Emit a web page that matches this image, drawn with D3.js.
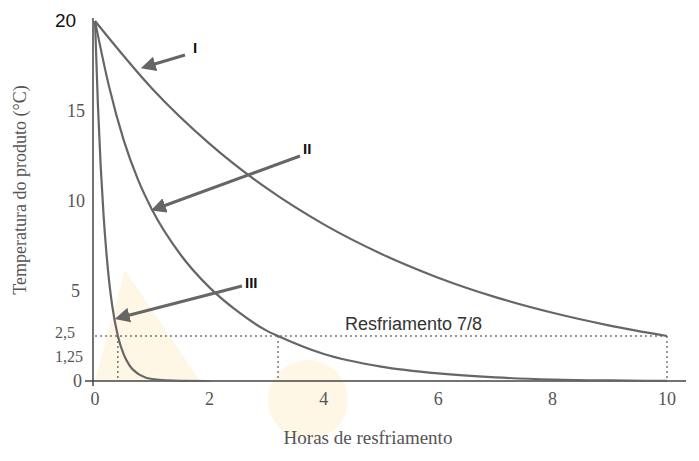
<!DOCTYPE html><html><head><meta charset="utf-8"><script src="https://cdn.jsdelivr.net/npm/d3@7"></script>
<style>body{margin:0;background:#fff}text{font-family:"Liberation Serif",serif;fill:#555}</style></head><body><svg width="699" height="461"></svg><script>
const curveI=[[0,20],[1,16.24],[2,13.19],[3,10.71],[4,8.70],[5,7.07],[6,5.74],[7,4.66],[8,3.79],[9,3.08],[10,2.5]];
const curveII=[[0,20],[0.25,16.3],[0.5,13.4],[0.75,11.2],[1,9.5],[1.5,7.0],[2,5.2],[2.5,3.85],[3,2.8],[3.2,2.5],[4,1.5],[5,0.8],[6,0.42],[7,0.2],[8,0.08],[9,0.03],[10,0.01]];
const curveIII=[[0,20],[0.05,15.4],[0.1,11.9],[0.15,9.2],[0.2,7.1],[0.25,5.45],[0.3,4.2],[0.4,2.5],[0.5,1.49],[0.6,0.88],[0.8,0.31],[1,0.11],[1.5,0.01],[2,0]];
const xTicks=[0,2,4,6,8,10];
const yTicks=[0,1.25,2.5,5,10,15];
const yTickLabels=["0","1,25","2,5","5","10","15"];
const coolTimes=[0.4,3.2,10];
const svg=d3.select("svg");
const x=d3.scaleLinear().domain([0,10]).range([95,667]);
const y=d3.scaleLinear().domain([0,20]).range([381,21]);
svg.append("path").attr("d","M95,381 L125,270 L200,381 Z").attr("fill","#fdf1d6").attr("opacity",0.6);
svg.append("circle").attr("cx",308).attr("cy",400).attr("r",40).attr("fill","#fdf1d6").attr("opacity",0.6);
svg.append("line").attr("x1",85).attr("x2",686).attr("y1",y(0)).attr("y2",y(0)).attr("stroke","#444").attr("stroke-width",1.5);
svg.append("line").attr("x1",x(0)-2).attr("x2",x(0)-2).attr("y1",18).attr("y2",386).attr("stroke","#444").attr("stroke-width",1.5);
svg.selectAll(".xt").data(xTicks).join("text").attr("x",d=>x(d)).attr("y",405).attr("text-anchor","middle").attr("font-size",18).text(d=>d);
svg.selectAll(".yt").data(yTicks).join("text").attr("x",d=>d===1.25?83:(d===2.5?75:(d===0?82:(d<10?80:85)))).attr("y",d=>y(d)+(d===1.25?3:(d===2.5?2:6))).attr("text-anchor","end").attr("font-size",d=>d<5&&d>0?16:18).text((d,i)=>yTickLabels[i]);
svg.append("text").attr("x",55).attr("y",27).style("font-family","Liberation Sans").style("fill","#111").attr("font-size",19).text("20");
svg.append("text").attr("transform","translate(26,190) rotate(-90)").attr("text-anchor","middle").attr("font-size",18).text("Temperatura do produto (°C)");
svg.append("text").attr("x",368).attr("y",444).attr("text-anchor","middle").attr("font-size",19).text("Horas de resfriamento");
svg.append("line").attr("x1",x(0)).attr("x2",x(10)).attr("y1",y(2.5)).attr("y2",y(2.5)).attr("stroke","#333").attr("stroke-dasharray","2,3");
svg.selectAll(".vd").data(coolTimes).join("line").attr("x1",d=>x(d)).attr("x2",d=>x(d)).attr("y1",y(2.5)).attr("y2",y(0)).attr("stroke","#333").attr("stroke-dasharray","2,3");
svg.append("text").attr("x",345).attr("y",330).style("font-family","Liberation Sans").style("fill","#333").attr("font-size",18).text("Resfriamento 7/8");
const line=d3.line().x(d=>x(d[0])).y(d=>y(d[1])).curve(d3.curveMonotoneX);
[curveI,curveII,curveIII].forEach(c=>svg.append("path").attr("d",line(c)).attr("fill","none").attr("stroke","#666").attr("stroke-width",2.2));
svg.append("defs").append("marker").attr("id","ah").attr("viewBox","0 0 10 10").attr("refX",5).attr("refY",5).attr("markerWidth",5).attr("markerHeight",5).attr("orient","auto").append("path").attr("d","M0,0 L10,5 L0,10 Z").attr("fill","#666");
const arrows=[[185,55,148,66,"I",193,53],[300,156,158,208,"II",303,154],[242,286,122,317,"III",245,288]];
arrows.forEach(a=>{svg.append("line").attr("x1",a[0]).attr("y1",a[1]).attr("x2",a[2]).attr("y2",a[3]).attr("stroke","#666").attr("stroke-width",3).attr("marker-end","url(#ah)");
svg.append("text").attr("x",a[5]).attr("y",a[6]).style("font-family","Liberation Sans").attr("font-weight","bold").style("fill","#111").attr("font-size",15).text(a[4]);});
</script></body></html>
